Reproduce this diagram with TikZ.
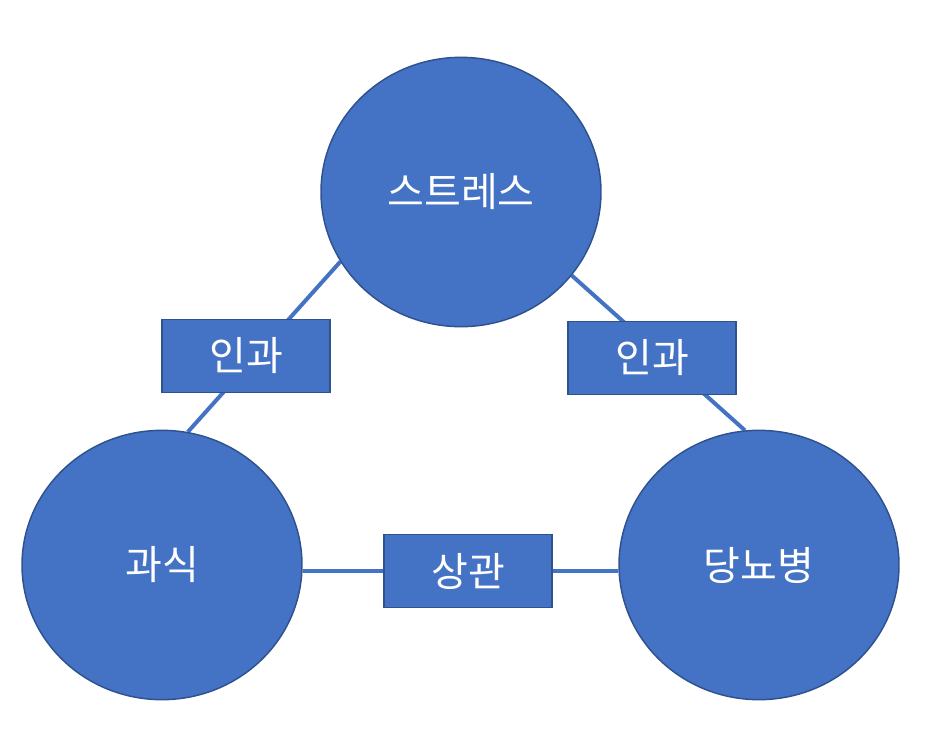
\documentclass[tikz,border=0pt]{standalone}
\usepackage{fontspec}
\newfontfamily\kor{Noto Sans CJK KR}
\usetikzlibrary{shapes.geometric,backgrounds}
\definecolor{nodeblue}{HTML}{4472C4}
\definecolor{edgeblue}{HTML}{2F528F}

\begin{document}
\begin{tikzpicture}[x=0.75pt, y=-0.75pt,
    topic/.style={ellipse, draw=edgeblue, line width=1.1pt, fill=nodeblue, minimum width=210pt, minimum height=202pt, inner sep=0pt},
    relbox/.style={rectangle, draw=edgeblue, line width=1.1pt, fill=nodeblue, minimum width=126pt, minimum height=55pt, inner sep=0pt},
    link/.style={draw=nodeblue, line width=3pt},
    every node/.style={text=white, font=\kor\fontsize{30}{36}\selectfont}]

    \useasboundingbox (0,0) rectangle (946,736);

    % --- the three topics ---
    \node[topic] (stress) at (461,192) {스트레스};
    \node[topic] (food) at (162,565) {과식};
    \node[topic] (diab) at (759,565) {당뇨병};

    % --- relation labels ---
    \node[relbox] (r1) at (246,356) {인과};
    \node[relbox] (r2) at (652,358) {인과};
    \node[relbox] (r3) at (468,571) {상관};

    % connectors behind everything
    \begin{scope}[on background layer]
        \draw[link] (stress.210) -- (food.79);
        \draw[link] (stress.-37) -- (diab.96);
        \draw[link] (food.east |- r3) -- (diab.west |- r3);
    \end{scope}

\end{tikzpicture}
\end{document}
